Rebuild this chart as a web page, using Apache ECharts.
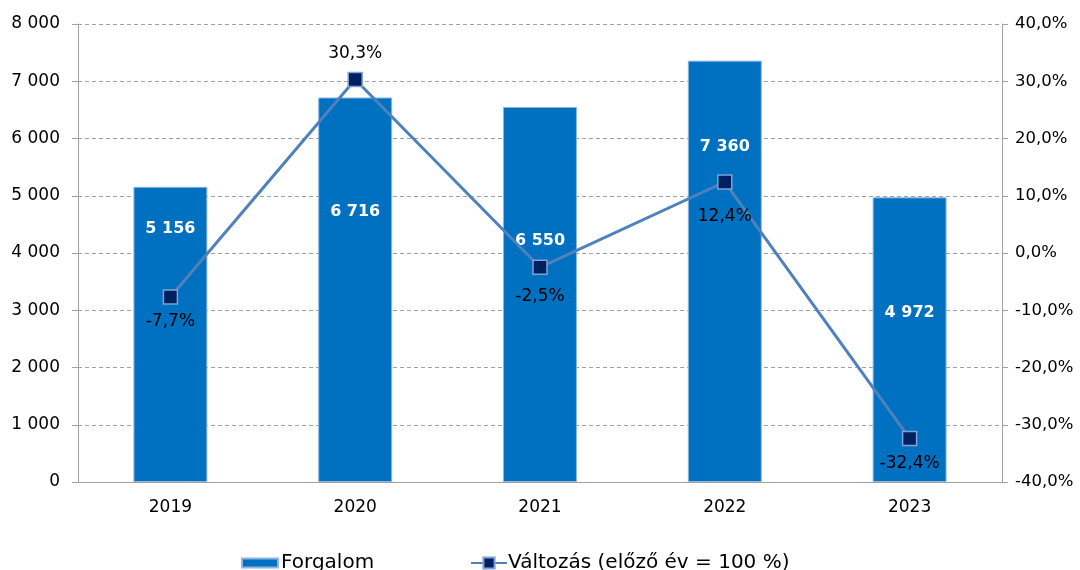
<!DOCTYPE html>
<html>
<head>
<meta charset="utf-8">
<script src="https://cdn.jsdelivr.net/npm/echarts@6/dist/echarts.min.js"></script>
<style>
  html, body { margin: 0; padding: 0; background: #fff; }
  #chart { width: 1080px; height: 570px; }
</style>
</head>
<body>
<div id="chart"></div>
<script>
const years = ["2019", "2020", "2021", "2022", "2023"];
const forgalom = [5156, 6716, 6550, 7360, 4972];
const valtozas = [-7.7, 30.3, -2.5, 12.4, -32.4];

// label placement, tuned by eye
const barLabelDy = [44, 116, 136, 88, 117];
const lineLabelPos = ["bottom", "top", "bottom", "bottom", "bottom"];
const lineLabelDist = [8, 10, 13, 18, 9];

const font = "DejaVu Sans";
const fmtThousands = (v) => String(v).replace(/\B(?=(\d{3})+(?!\d))/g, " ");
const fmtPct = (v) => v.toFixed(1).replace(".", ",") + "%";

const barName = "Forgalom";
const lineName = "Változás (előző év = 100 %)";

const chart = echarts.init(document.getElementById("chart"));

const option = {
  animation: false,
  textStyle: { fontFamily: font },
  grid: { left: 78, right: 78, top: 24, bottom: 88 },
  legend: [
    {
      top: 548,
      left: 236,
      itemWidth: 36,
      itemHeight: 9,
      textStyle: { fontSize: 20, color: "#000", fontFamily: font, padding: [0, 0, 0, -2] },
      data: [{ name: barName, icon: "rect" }],
    },
    {
      top: 548,
      left: 465,
      itemWidth: 36,
      itemHeight: 14,
      textStyle: { fontSize: 20, color: "#000", fontFamily: font, padding: [0, 0, 0, -4] },
      data: [{ name: lineName }],
    },
  ],
  xAxis: {
    type: "category",
    data: years,
    axisLine: { lineStyle: { color: "#a0a0a0" } },
    axisTick: { show: false },
    axisLabel: { color: "#000", fontSize: 17, margin: 17 },
  },
  yAxis: [
    {
      type: "value",
      min: 0,
      max: 8000,
      interval: 1000,
      axisLine: { show: true, lineStyle: { color: "#a0a0a0" } },
      axisTick: { show: true, length: 6, lineStyle: { color: "#a0a0a0" } },
      axisLabel: { color: "#000", fontSize: 17, margin: 18, formatter: fmtThousands },
      splitLine: { lineStyle: { color: "#a0a0a0", type: [4, 3] } },
    },
    {
      type: "value",
      min: -40,
      max: 40,
      interval: 10,
      axisLine: { show: true, lineStyle: { color: "#a0a0a0" } },
      axisTick: { show: true, length: 6, lineStyle: { color: "#a0a0a0" } },
      axisLabel: { color: "#000", fontSize: 16.5, margin: 13, formatter: fmtPct },
      splitLine: { show: false },
    },
  ],
  series: [
    {
      name: barName,
      type: "bar",
      barWidth: "40%",
      data: forgalom.map((v, i) => ({
        value: v,
        label: { position: "insideTop", distance: barLabelDy[i] - 10 },
      })),
      itemStyle: { color: "#0070C0", borderColor: "#8DB4E2", borderWidth: 1 },
      label: {
        show: true,
        color: "#fff",
        fontSize: 16,
        fontWeight: "bold",
        formatter: (p) => fmtThousands(p.value),
      },
      z: 2,
    },
    {
      name: lineName,
      type: "line",
      yAxisIndex: 1,
      data: valtozas.map((v, i) => ({
        value: v,
        label: { position: lineLabelPos[i], distance: lineLabelDist[i] },
      })),
      symbol: "rect",
      symbolSize: 14,
      lineStyle: { color: "#4F81BD", width: 3 },
      itemStyle: { color: "#002060", borderColor: "#7FA3D4", borderWidth: 1.5 },
      label: {
        show: true,
        color: "#000",
        fontSize: 17,
        formatter: (p) => fmtPct(p.value),
      },
      z: 3,
    },
  ],
};

chart.setOption(option);
</script>
</body>
</html>
